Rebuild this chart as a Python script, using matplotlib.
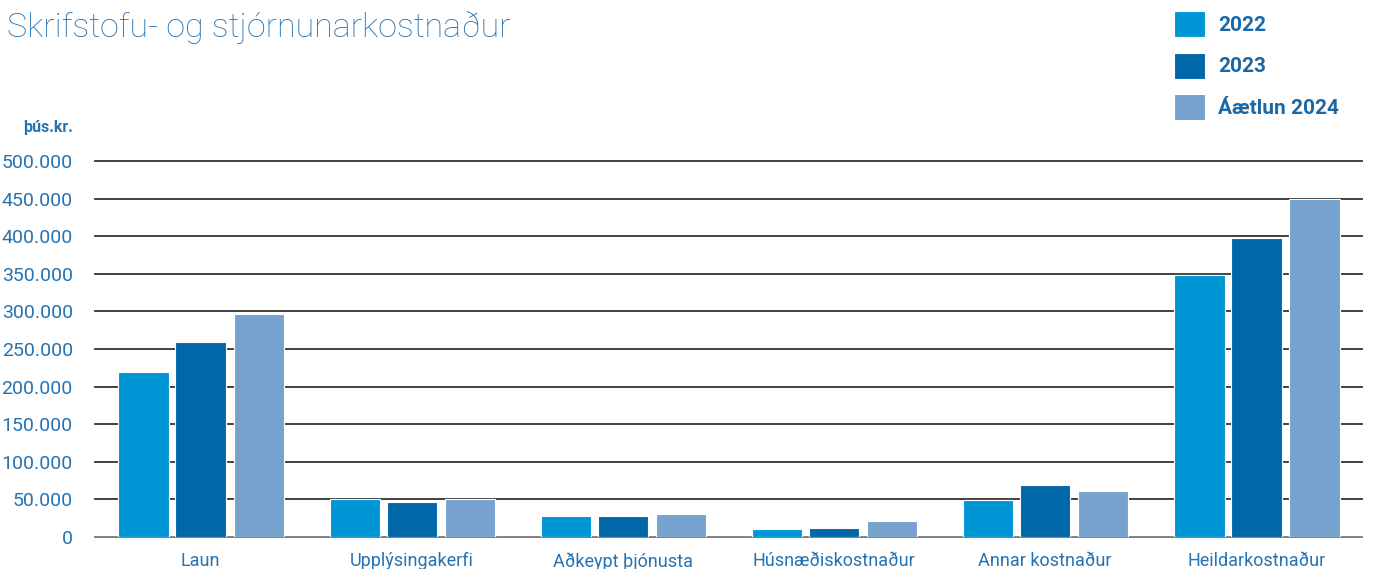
import matplotlib.pyplot as plt
import numpy as np

categories = ["Laun", "Upplýsingakerfi", "Aðkeypt þjónusta",
              "Húsnæðiskostnaður", "Annar kostnaður", "Heildarkostnaður"]
series_names = ["2022", "2023", "Áætlun 2024"]
v2022 = [220000, 50000, 28000, 10500, 49000, 348000]
v2023 = [259000, 46500, 28000, 12000, 69000, 398000]
v2024 = [297000, 50000, 30500, 21000, 61000, 449000]
yticks = [0, 50000, 100000, 150000, 200000, 250000, 300000, 350000, 400000, 450000, 500000]

colors = ["#0096d6", "#0068a9", "#77a2ce"]
text_blue = "#2573b2"

plt.rcParams['font.family'] = ['Roboto', 'DejaVu Sans']

fig = plt.figure(figsize=(13.73, 5.69), dpi=100)
ax = fig.add_axes([95 / 1373, 32 / 569, 1267 / 1373, 376 / 569])

x = np.arange(len(categories))
offsets = [-0.27, 0.0, 0.275]
width = 0.238
handles = []
for vals, off, c, name in zip([v2022, v2023, v2024], offsets, colors, series_names):
    b = ax.bar(x + off, vals, width, color=c, edgecolor="white", linewidth=0.8,
               label=name, zorder=3)
    handles.append(b)

for t in yticks:
    ax.axhline(t, color="#333333" if t else "#777777", linewidth=1.3, zorder=1,
               clip_on=False)

ax.set_xlim(-0.5, len(categories) - 0.5)
ax.set_ylim(0, 500000)
ax.set_yticks(yticks)
ax.set_yticklabels([f"{t:,}".replace(",", ".") for t in yticks],
                   color=text_blue, fontsize=14)
ax.set_xticks(x)
ax.set_xticklabels(categories, color=text_blue, fontsize=13)
ax.tick_params(axis="both", length=0)
ax.tick_params(axis="y", pad=16)
ax.tick_params(axis="x", pad=11)
for s in ax.spines.values():
    s.set_visible(False)

fig.text(73 / 1373, 1 - 127 / 569, "þús.kr.", ha="right", va="center",
         color=text_blue, fontsize=11.5, fontweight="bold")
fig.text(7 / 1373, 1 - 27 / 569, "Skrifstofu- og stjórnunarkostnaður",
         ha="left", va="center", color=text_blue, fontsize=24.5, fontweight="light")

fig.legend(handles=handles, loc="upper left",
           bbox_to_anchor=(1174 / 1373, 1 - 11 / 569), frameon=False,
           borderpad=0, borderaxespad=0,
           handlelength=1.49, handleheight=1.55, labelspacing=0.74,
           handletextpad=0.63, labelcolor="#1a68a6",
           prop={"weight": "bold", "size": 15})

fig.savefig("out.png", dpi=100)
